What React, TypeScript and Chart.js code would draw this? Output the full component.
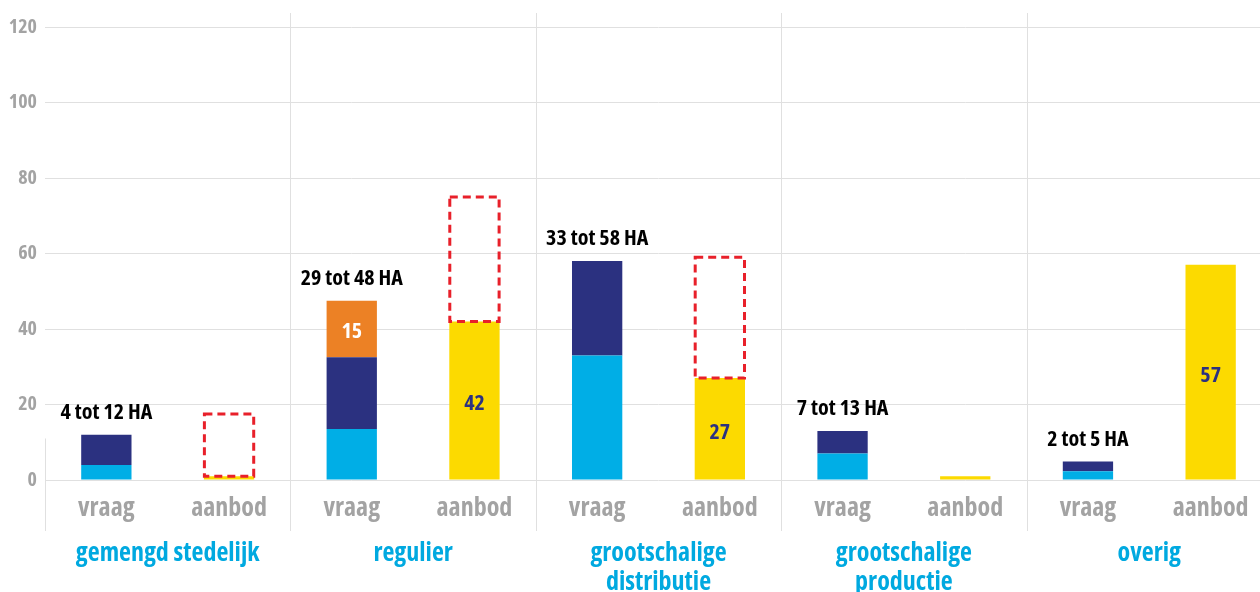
import { useEffect, useRef } from 'react';
import { Chart, registerables } from 'chart.js';

Chart.register(...registerables);

const categories = ['vraag', 'aanbod', 'vraag', 'aanbod', 'vraag', 'aanbod', 'vraag', 'aanbod', 'vraag', 'aanbod'];
const groupLabels: (string | string[])[] = [
  'gemengd stedelijk',
  'regulier',
  ['grootschalige', 'distributie'],
  ['grootschalige', 'productie'],
  'overig',
];
const rangeLabels = ['4 tot 12 HA', '', '29 tot 48 HA', '', '33 tot 58 HA', '', '7 tot 13 HA', '', '2 tot 5 HA', ''];
const demandLow = [4, null, 13.5, null, 33, null, 7, null, 2.3, null];
const demandExtra = [8, null, 19, null, 25, null, 6, null, 2.6, null];
const demandTransform = [null, null, 15, null, null, null, null, null, null, null];
const supply = [null, 1, null, 42, null, 27, null, 1, null, 57];
const potentialLow = [null, 1, null, 42, null, 27, null, null, null, null];
const potentialHigh = [null, 17.5, null, 75, null, 59, null, null, null, null];
const yTicks = [0, 20, 40, 60, 80, 100, 120];

const FONT = "'Open Sans', 'DejaVu Sans Condensed', sans-serif";
const WEIGHT = 'bold condensed';
const C_LIGHT = '#00AEE6';
const C_NAVY = '#2B3180';
const C_ORANGE = '#EC8125';
const C_YELLOW = '#FCDA00';
const C_RED = '#E8202A';
const C_GRID = '#E0E0E0';

export default function App() {
  const ref = useRef<HTMLCanvasElement>(null);
  useEffect(() => {
    const canvas = ref.current!;
    const overlay = {
      id: 'overlay',
      beforeDatasetsDraw(chart: any) {
        const { ctx, chartArea } = chart;
        const x = chart.scales.x;
        const y = chart.scales.y;
        ctx.save();
        ctx.strokeStyle = C_GRID;
        ctx.lineWidth = 1;
        const top = chartArea.top - 14;
        const bottom = chartArea.bottom + 51;
        for (let g = 1; g < groupLabels.length; g++) {
          const px = Math.round((x.getPixelForValue(2 * g - 1) + x.getPixelForValue(2 * g)) / 2) + 0.5;
          ctx.beginPath();
          ctx.moveTo(px, top);
          ctx.lineTo(px, bottom);
          ctx.stroke();
        }
        const lx = Math.round(chartArea.left) + 0.5;
        ctx.beginPath();
        ctx.moveTo(lx, y.getPixelForValue(11));
        ctx.lineTo(lx, bottom);
        ctx.stroke();
        ctx.restore();
      },
      afterDatasetsDraw(chart: any) {
        const { ctx } = chart;
        const x = chart.scales.x;
        const y = chart.scales.y;
        ctx.save();
        // dashed potential boxes
        const dm = chart.getDatasetMeta(4);
        ctx.strokeStyle = C_RED;
        ctx.lineWidth = 3;
        ctx.setLineDash([8, 5]);
        dm.data.forEach((el: any, i: number) => {
          if (potentialLow[i] == null) return;
          const p = el.getProps(['x', 'y', 'base', 'width'], true);
          const top = Math.min(p.y, p.base);
          const h = Math.abs(p.base - p.y);
          ctx.strokeRect(p.x - p.width / 2 + 0.5, top, p.width - 1, h);
        });
        ctx.setLineDash([]);
        // range labels above demand bars
        ctx.textAlign = 'center';
        ctx.textBaseline = 'middle';
        ctx.fillStyle = '#000';
        ctx.font = `${WEIGHT} 22px ${FONT}`;
        rangeLabels.forEach((lab, i) => {
          if (!lab) return;
          const total = (demandLow[i] || 0) + (demandExtra[i] || 0) + (demandTransform[i] || 0);
          ctx.fillText(lab, x.getPixelForValue(i), y.getPixelForValue(total) - 22);
        });
        // values inside bars
        ctx.font = `${WEIGHT} 22px ${FONT}`;
        const om = chart.getDatasetMeta(2);
        om.data.forEach((el: any, i: number) => {
          if (demandTransform[i] == null) return;
          const p = el.getProps(['x', 'y', 'base'], true);
          ctx.fillStyle = '#fff';
          ctx.fillText(String(demandTransform[i]), p.x, (p.y + p.base) / 2 + 3);
        });
        const sm = chart.getDatasetMeta(3);
        sm.data.forEach((el: any, i: number) => {
          const v = supply[i];
          if (v == null || v < 10) return;
          const p = el.getProps(['x', 'y', 'base'], true);
          ctx.fillStyle = C_NAVY;
          ctx.fillText(String(v), p.x, (p.y + p.base) / 2 + 3.5);
        });
        ctx.restore();
      },
    };

    const common = { barPercentage: 0.41, categoryPercentage: 1, stack: 's' };
    const chart = new Chart(canvas, {
      type: 'bar',
      data: {
        labels: categories,
        datasets: [
          { label: 'vraag laag', data: demandLow, backgroundColor: C_LIGHT, ...common },
          { label: 'vraag extra', data: demandExtra, backgroundColor: C_NAVY, ...common },
          { label: 'transformatie', data: demandTransform, backgroundColor: C_ORANGE, ...common },
          { label: 'aanbod', data: supply, backgroundColor: C_YELLOW, ...common },
          {
            label: 'potentieel',
            data: categories.map((_, i) => (potentialLow[i] == null ? null : [potentialLow[i], potentialHigh[i]])) as any,
            backgroundColor: 'rgba(0,0,0,0)',
            barPercentage: 0.41,
            categoryPercentage: 1,
            stack: 'p',
            grouped: false,
          } as any,
        ],
      },
      options: {
        responsive: false,
        animation: false,
        layout: { padding: { top: 27, right: 0, bottom: 0, left: 0 } },
        plugins: { legend: { display: false }, tooltip: { enabled: false } },
        scales: {
          x: {
            type: 'category',
            stacked: true,
            offset: true,
            grid: { display: false, drawTicks: false },
            border: { display: false },
            ticks: {
              color: '#A3A3A3',
              font: { family: FONT, size: 26, weight: WEIGHT as any },
              padding: 13,
              autoSkip: false,
              maxRotation: 0,
            },
            afterFit: (s: any) => {
              s.height = 50;
            },
          },
          x2: {
            type: 'category',
            position: 'bottom',
            labels: groupLabels as any,
            offset: true,
            grid: { display: false, drawTicks: false },
            border: { display: false },
            ticks: {
              color: '#00A9E0',
              font: { family: FONT, size: 26, weight: WEIGHT as any, lineHeight: 1.08 },
              padding: 10,
              autoSkip: false,
              maxRotation: 0,
            },
            afterFit: (s: any) => {
              s.height = 62;
            },
          } as any,
          y: {
            stacked: true,
            min: 0,
            max: 120,
            afterBuildTicks: (s: any) => {
              s.ticks = yTicks.map((v) => ({ value: v }));
            },
            grid: { color: C_GRID, drawTicks: false },
            border: { display: false },
            ticks: {
              color: '#A3A3A3',
              font: { family: FONT, size: 20, weight: WEIGHT as any },
              padding: 8,
            },
            afterFit: (s: any) => {
              s.width = 45;
            },
          },
        },
      },
      plugins: [overlay],
    });
    return () => chart.destroy();
  }, []);

  return (
    <div style={{ position: 'absolute', left: 0, top: 0, width: 1260, height: 592, overflow: 'hidden', background: '#fff' }}>
      <canvas ref={ref} width={1272} height={592} style={{ display: 'block' }} />
    </div>
  );
}
